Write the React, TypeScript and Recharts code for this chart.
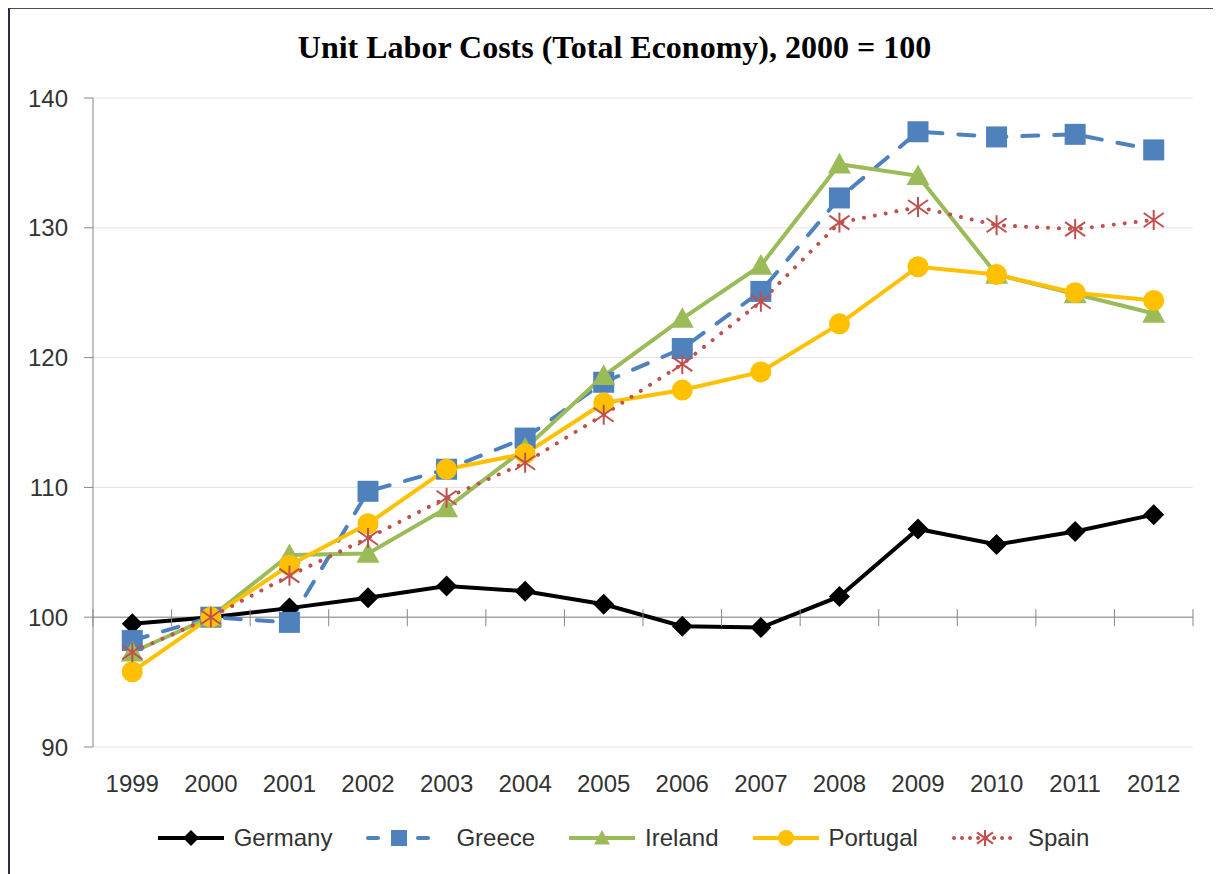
import { CartesianGrid, Legend, Line, LineChart, ReferenceLine, XAxis, YAxis } from "recharts"

const years = ["1999", "2000", "2001", "2002", "2003", "2004", "2005", "2006", "2007", "2008", "2009", "2010", "2011", "2012"]
const germany = [99.5, 100, 100.7, 101.5, 102.4, 102.0, 101.0, 99.3, 99.2, 101.6, 106.8, 105.6, 106.6, 107.9]
const greece = [98.2, 100, 99.6, 109.7, 111.4, 113.8, 118.1, 120.7, 125.1, 132.3, 137.4, 137.0, 137.2, 136.0]
const ireland = [97.3, 100, 104.8, 104.9, 108.4, 113.0, 118.6, 123.0, 127.1, 134.9, 134.0, 126.4, 124.9, 123.4]
const portugal = [95.8, 100, 104.0, 107.2, 111.4, 112.6, 116.5, 117.5, 118.9, 122.6, 127.0, 126.4, 125.0, 124.4]
const spain = [97.3, 100, 103.2, 106.1, 109.2, 111.9, 115.6, 119.5, 124.3, 130.4, 131.6, 130.2, 129.9, 130.6]
const yTicks = [90, 100, 110, 120, 130, 140]

const data = years.map((year, i) => ({
  year,
  Germany: germany[i],
  Greece: greece[i],
  Ireland: ireland[i],
  Portugal: portugal[i],
  Spain: spain[i],
}))

// layout of the plot area inside the svg
const W = 1213
const H = 866
const PLOT_LEFT = 85
const PLOT_TOP = 90
const PLOT_W = 1100
const PLOT_H = 649
const Y_MIN = 90
const Y_MAX = 140
const AXIS_GRAY = "#868686"
const TEXT = "#333333"
const FONT = "'Liberation Sans', Arial, sans-serif"

const y100 = PLOT_TOP + (PLOT_H * (Y_MAX - 100)) / (Y_MAX - Y_MIN)
const band = PLOT_W / years.length

const Diamond = ({ cx, cy, r = 10.5, fill = "#000" }: any) => (
  <polygon points={`${cx},${cy - r} ${cx + r},${cy} ${cx},${cy + r} ${cx - r},${cy}`} fill={fill} />
)
const Square = ({ cx, cy, r = 10.5, fill = "#4f81bd" }: any) => (
  <rect x={cx - r} y={cy - r} width={r * 2} height={r * 2} fill={fill} />
)
const Triangle = ({ cx, cy, r = 11.5, fill = "#9bbb59" }: any) => (
  <polygon points={`${cx},${cy - r} ${cx + r},${cy + r * 0.8} ${cx - r},${cy + r * 0.8}`} fill={fill} />
)
const Circle = ({ cx, cy, r = 10.5, fill = "#ffc000" }: any) => <circle cx={cx} cy={cy} r={r} fill={fill} />
const Star = ({ cx, cy, r = 10, stroke = "#c0504d" }: any) => (
  <g stroke={stroke} strokeWidth={2}>
    <line x1={cx - r} y1={cy - r * 0.7} x2={cx + r} y2={cy + r * 0.7} />
    <line x1={cx - r} y1={cy + r * 0.7} x2={cx + r} y2={cy - r * 0.7} />
    <line x1={cx} y1={cy - r} x2={cx} y2={cy + r} />
  </g>
)

const series = [
  { key: "Germany", color: "#000000", dash: undefined, marker: Diamond },
  { key: "Greece", color: "#4f81bd", dash: "16 16", marker: Square },
  { key: "Ireland", color: "#9bbb59", dash: undefined, marker: Triangle },
  { key: "Portugal", color: "#ffc000", dash: undefined, marker: Circle },
  { key: "Spain", color: "#c0504d", dash: "0.01 11", marker: Star },
]

const XTick = (props: any) => {
  const { x, y, payload, index } = props
  return (
    <g>
      <line x1={x - band / 2} y1={y100 - 8} x2={x - band / 2} y2={y100 + 9} stroke={AXIS_GRAY} />
      {index === years.length - 1 && (
        <line x1={x + band / 2} y1={y100 - 8} x2={x + band / 2} y2={y100 + 9} stroke={AXIS_GRAY} />
      )}
      <text x={x} y={y + 45} textAnchor="middle" fontSize={24} fontFamily={FONT} fill={TEXT}>
        {payload.value}
      </text>
    </g>
  )
}

const LegendContent = () => (
  <div
    style={{
      display: "flex",
      justifyContent: "center",
      alignItems: "center",
      gap: 32,
      marginLeft: 44,
      fontFamily: FONT,
      fontSize: 24,
      color: TEXT,
    }}
  >
    {series.map((s) => {
      const M = s.marker
      return (
        <div key={s.key} style={{ display: "flex", alignItems: "center", gap: 8 }}>
          <svg width={70} height={24}>
            <line
              x1={s.dash ? 4 : 2}
              y1={12}
              x2={s.dash ? 66 : 68}
              y2={12}
              stroke={s.color}
              strokeWidth={4}
              strokeDasharray={s.dash ? (s.key === "Greece" ? "10 40" : "0.01 8") : undefined}
              strokeLinecap={s.dash ? "round" : "butt"}
            />
            <M cx={35} cy={12} r={8} />
          </svg>
          <span style={{ paddingLeft: s.key === "Greece" ? 14 : 0 }}>{s.key}</span>
        </div>
      )
    })}
  </div>
)

export default function App() {
  return (
    <div style={{ position: "relative", width: W, height: H }}>
      <div
        style={{
          position: "absolute",
          top: -1,
          left: 0,
          width: W + 20,
          height: H + 20,
          borderTop: "2px solid #4a4a66",
          borderLeft: "2px solid #2c2c48",
          pointerEvents: "none",
        }}
      />
      <div
        style={{
          position: "absolute",
          top: 23,
          left: 0,
          width: W,
          textAlign: "center",
          fontFamily: "'Liberation Serif', 'Times New Roman', serif",
          fontWeight: "bold",
          fontSize: 32,
          lineHeight: "32px",
          color: "#000",
        }}
      >
        Unit Labor Costs (Total Economy), 2000 = 100
      </div>
      <LineChart width={W} height={H} data={data} margin={{ top: PLOT_TOP, right: W - PLOT_LEFT - PLOT_W, bottom: 10, left: 0 }}>
        <CartesianGrid vertical={false} stroke="#e4e4e4" />
        <XAxis
          dataKey="year"
          height={77}
          axisLine={false}
          tickLine={false}
          tickSize={0}
          tickMargin={0}
          tick={<XTick />}
          interval={0}
          padding={{ left: band / 2, right: band / 2 }}
        />
        <YAxis
          width={PLOT_LEFT}
          domain={[Y_MIN, Y_MAX]}
          ticks={yTicks}
          axisLine={{ stroke: AXIS_GRAY }}
          tickLine={{ stroke: AXIS_GRAY }}
          tickSize={9}
          tickMargin={16}
          tick={{ fontSize: 24, fontFamily: FONT, fill: TEXT }}
        />
        <ReferenceLine y={100} stroke={AXIS_GRAY} />
        {series.map((s) => {
          const M = s.marker
          return (
            <Line
              key={s.key}
              dataKey={s.key}
              stroke={s.color}
              strokeWidth={4}
              strokeDasharray={s.dash}
              strokeLinecap={s.dash ? "round" : "butt"}
              dot={(p: any) => <M key={`${s.key}-${p.index}`} cx={p.cx} cy={p.cy} />}
              activeDot={false}
              isAnimationActive={false}
            />
          )
        })}
        <Legend verticalAlign="bottom" height={40} content={<LegendContent />} />
      </LineChart>
    </div>
  )
}
